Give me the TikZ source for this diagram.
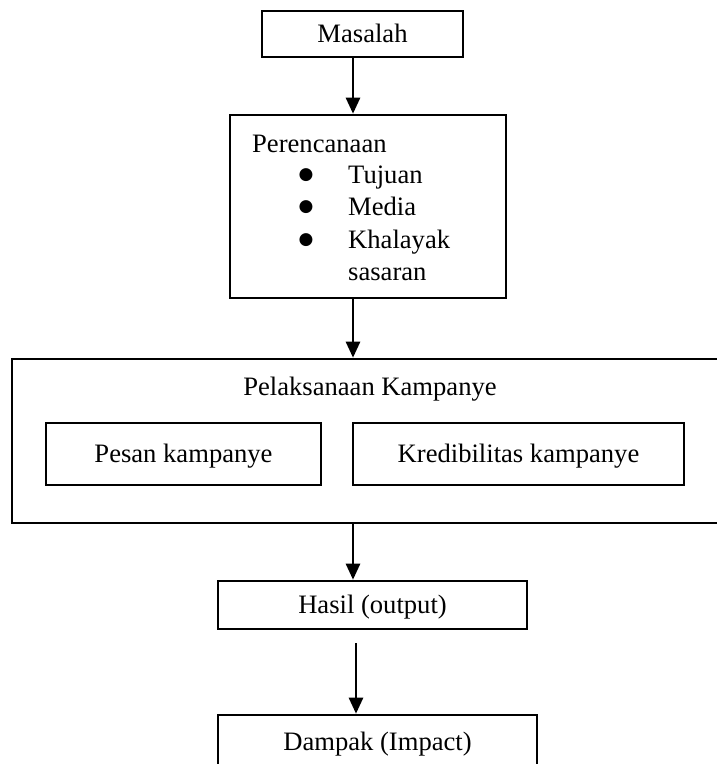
\documentclass[tikz,border=0pt]{standalone}
\usepackage{fontspec}
\setmainfont{Liberation Serif}
\newfontfamily\dvsans{DejaVu Sans}
\usetikzlibrary{arrows.meta}
\begin{document}
\begin{tikzpicture}[x=1pt,y=-1pt,
  every node/.style={font=\fontsize{26.6pt}{32pt}\selectfont, inner sep=0pt},
  box/.style={draw, line width=2.6pt, text height=19pt, text depth=1.5pt},
  bul/.style={anchor=base, font=\dvsans\fontsize{17pt}{18pt}\selectfont},
  arr/.style={line width=2.6pt, -{Triangle[width=14pt,length=16pt]}},
]
\clip (0,0) rectangle (717,764);
\coordinate (ax1) at (353,0);
\coordinate (ax2) at (356,0);
% boxes
\node[box, minimum width=201pt, minimum height=46pt] (mas) at (362.5,34) {Masalah};
\node[box, minimum width=276pt, minimum height=183pt] (per) at (368,206.5) {};
\node[box, minimum width=748pt, minimum height=164pt] (outer) at (386,441) {};
\node[box, minimum width=275pt, minimum height=62pt] (pesan) at (183.5,454) {Pesan kampanye};
\node[box, minimum width=331pt, minimum height=62pt] (kred) at (518.5,454) {Kredibilitas kampanye};
\node[box, minimum width=309pt, minimum height=48pt] (hasil) at (372.5,605) {Hasil (output)};
\node[box, minimum width=319pt, minimum height=80pt, text depth=29pt] (dampak) at (377.5,755) {Dampak (Impact)};
% texts inside Perencanaan
\node[anchor=base west] (pt) at (252,152) {Perencanaan};
\node[bul] (b1) at (306,179) {●};
\node[bul] (b2) at (306,211) {●};
\node[bul] (b3) at (306,244) {●};
\node[anchor=base west] (t1) at (348,183) {Tujuan};
\node[anchor=base west] (t2) at (348,215) {Media};
\node[anchor=base west] (t3) at (348,248) {Khalayak};
\node[anchor=base west] (t4) at (348,280) {sasaran};
% title of outer box
\node[anchor=base] (ot) at (370,395) {Pelaksanaan Kampanye};
% arrows
\coordinate (h2) at ([yshift=-13pt]hasil.south);
\draw[arr] (mas.south -| ax1) -- (per.north -| ax1);
\draw[arr] (per.south -| ax1) -- (outer.north -| ax1);
\draw[arr] (outer.south -| ax1) -- (hasil.north -| ax1);
\draw[arr] (h2 -| ax2) -- (dampak.north -| ax2);
\end{tikzpicture}
\end{document}
